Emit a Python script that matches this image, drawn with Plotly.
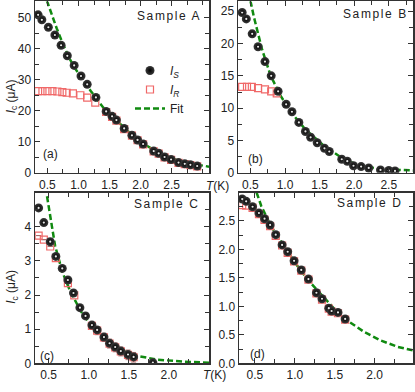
import plotly.graph_objects as go

# ---------------- Data ----------------
# Sample A
a_T_s = [0.35, 0.41, 0.515, 0.62, 0.72, 0.82, 0.93, 1.04, 1.14, 1.28, 1.445, 1.54, 1.61, 1.735, 1.86, 1.95, 2.04, 2.21, 2.29, 2.385, 2.49, 2.61, 2.71, 2.80, 2.91]
a_I_s = [50.9, 49.3, 46.9, 44.4, 41.1, 37.7, 34.6, 31.2, 28.5, 24.3, 19.8, 18.2, 17.0, 14.3, 12.1, 10.6, 9.3, 7.0, 6.3, 5.1, 4.3, 3.3, 2.9, 2.6, 2.2]
a_T_r = [0.35, 0.42, 0.50, 0.58, 0.66, 0.74, 0.81, 0.91, 1.03, 1.14, 1.27, 1.445, 1.54, 1.61, 1.735, 1.86, 1.95, 2.04, 2.21, 2.29, 2.385, 2.49, 2.61, 2.71, 2.80, 2.91]
a_I_r = [26.3, 26.3, 26.3, 26.3, 26.2, 26.0, 25.8, 25.6, 25.0, 24.2, 22.6, 19.6, 18.0, 16.8, 14.1, 12.0, 10.5, 9.2, 6.9, 6.2, 5.0, 4.2, 3.2, 2.8, 2.5, 2.1]
a_T_fit = [0.49, 0.55, 0.65, 0.75, 0.85, 0.95, 1.05, 1.2, 1.4, 1.6, 1.8, 2.0, 2.2, 2.4, 2.6, 2.8, 3.0, 3.1]
a_I_fit = [55.5, 52.0, 46.5, 41.5, 37.0, 33.5, 30.5, 26.3, 21.0, 17.0, 13.3, 10.0, 7.5, 5.4, 4.0, 3.0, 2.3, 2.0]

# Sample B
b_T_s = [0.38, 0.44, 0.525, 0.61, 0.71, 0.80, 0.90, 1.016, 1.10, 1.20, 1.295, 1.37, 1.465, 1.57, 1.64, 1.82, 1.90, 1.99, 2.10, 2.21, 2.38, 2.50, 2.59]
b_I_s = [24.8, 23.8, 21.5, 19.5, 17.2, 15.0, 12.6, 10.6, 9.45, 7.8, 6.4, 5.5, 4.65, 3.8, 3.3, 2.1, 1.8, 1.1, 0.97, 0.76, 0.45, 0.36, 0.3]
b_T_r = [0.38, 0.45, 0.52, 0.61, 0.71, 0.80, 0.88]
b_I_r = [13.3, 13.3, 13.3, 13.1, 12.9, 12.6, 12.3]
b_T_fit = [0.50, 0.55, 0.67, 0.79, 0.93, 1.10, 1.295, 1.54, 1.78, 2.02, 2.35, 2.86]
b_I_fit = [26.6, 24.1, 19.0, 15.1, 12.0, 9.2, 6.7, 4.4, 2.6, 1.36, 0.6, 0.36]

# Sample C
c_T_s = [0.375, 0.44, 0.52, 0.59, 0.67, 0.74, 0.81, 0.89, 0.96, 1.04, 1.105, 1.19, 1.26, 1.33, 1.40, 1.49, 1.56, 1.80]
c_I_s = [4.55, 4.12, 3.56, 3.13, 2.78, 2.44, 2.06, 1.63, 1.39, 1.12, 0.98, 0.77, 0.59, 0.48, 0.36, 0.26, 0.19, 0.02]
c_T_r = [0.375, 0.44, 0.52, 0.59, 0.74, 0.82, 1.04, 1.105, 1.19, 1.26, 1.33, 1.40, 1.49, 1.56]
c_I_r = [3.74, 3.62, 3.42, 3.08, 2.35, 1.99, 1.10, 0.96, 0.76, 0.58, 0.47, 0.35, 0.25, 0.18]
c_err_r = [0, 0, 0, 0, 0, 0, 0.1, 0.12, 0.12, 0.13, 0.13, 0.13, 0.14, 0.14]
c_T_fit = [0.48, 0.52, 0.58, 0.67, 0.77, 0.90, 1.02, 1.15, 1.31, 1.56, 1.855, 2.19, 2.50]
c_I_fit = [4.89, 4.31, 3.45, 2.68, 2.11, 1.53, 1.15, 0.81, 0.48, 0.24, 0.11, 0.05, 0.02]

# Sample D
d_T_s = [0.34, 0.39, 0.47, 0.55, 0.62, 0.69, 0.76, 0.84, 0.91, 0.99, 1.08, 1.17, 1.27, 1.34, 1.425, 1.46, 1.54, 1.63]
d_I_s = [2.885, 2.845, 2.75, 2.64, 2.54, 2.43, 2.26, 2.08, 1.96, 1.80, 1.64, 1.48, 1.24, 1.135, 0.97, 0.92, 0.895, 0.78]
d_T_r = [0.34, 0.39, 0.47, 0.55, 0.62, 0.69, 0.76, 0.84, 0.91, 0.99, 1.08, 1.17, 1.27, 1.34, 1.425, 1.46, 1.54, 1.63]
d_I_r = [2.78, 2.77, 2.73, 2.62, 2.52, 2.41, 2.24, 2.07, 1.94, 1.79, 1.63, 1.47, 1.23, 1.12, 0.96, 0.91, 0.88, 0.77]
d_T_fit = [0.52, 0.58, 0.70, 0.83, 0.996, 1.16, 1.33, 1.50, 1.66, 1.87, 2.08, 2.29, 2.475]
d_I_fit = [3.0, 2.76, 2.41, 2.13, 1.78, 1.47, 1.21, 0.95, 0.75, 0.55, 0.40, 0.29, 0.23]

x_ticks_ab = [0.5, 1.0, 1.5, 2.0, 2.5]
x_ticks_cd = [0.5, 1.0, 1.5, 2.0]
y_ticks_a = [0, 10, 20, 30, 40, 50]
y_ticks_b = [0, 5, 10, 15, 20, 25]
y_ticks_c = [0, 1, 2, 3, 4]
y_ticks_d = [0.0, 0.5, 1.0, 1.5, 2.0, 2.5]

# ---------------- Figure ----------------
W, H = 415, 392
GREEN = "#108a10"
RED = "#f06868"
FONT = "Liberation Sans"
SPHERE = dict(symbol="circle", size=9, color="#3a3a3a",
              gradient=dict(type="radial", color="#000000"), line=dict(width=0))

fig = go.Figure()

panels = [
    ("x", "y", a_T_s, a_I_s, a_T_r, a_I_r, None, a_T_fit, a_I_fit),
    ("x2", "y2", b_T_s, b_I_s, b_T_r, b_I_r, None, b_T_fit, b_I_fit),
    ("x3", "y3", c_T_s, c_I_s, c_T_r, c_I_r, c_err_r, c_T_fit, c_I_fit),
    ("x4", "y4", d_T_s, d_I_s, d_T_r, d_I_r, None, d_T_fit, d_I_fit),
]

for i, (xa, ya, ts, is_, tr, ir, er, tf, iff) in enumerate(panels):
    fig.add_trace(go.Scatter(
        x=tf, y=iff, xaxis=xa, yaxis=ya, mode="lines",
        line=dict(color=GREEN, width=2.5, dash="6px,3px"),
        name="Fit", showlegend=False))
    rkw = dict(x=tr, y=ir, xaxis=xa, yaxis=ya, mode="markers",
               marker=dict(symbol="square-open", size=7, color=RED, line=dict(width=1.2, color=RED)),
               name="I_R", showlegend=False)
    if er is not None:
        rkw["error_y"] = dict(type="data", array=er, visible=True, color="#a86a6a", thickness=1, width=2.5)
    fig.add_trace(go.Scatter(**rkw))
    fig.add_trace(go.Scatter(
        x=ts, y=is_, xaxis=xa, yaxis=ya, mode="markers",
        marker=SPHERE, name="I_S", showlegend=False))
    fig.add_trace(go.Scatter(
        x=ts, y=is_, xaxis=xa, yaxis=ya, mode="markers",
        marker=dict(symbol="circle", size=2.2, color="#e8e8e8", line=dict(width=0)),
        showlegend=False, hoverinfo="skip"))

# legend entries (panel A)
fig.add_trace(go.Scatter(x=[None], y=[None], mode="markers", marker=SPHERE,
                         name="<i>I</i><sub><i>S</i></sub>", legendrank=1))
fig.add_trace(go.Scatter(x=[None], y=[None], mode="markers",
                         marker=dict(symbol="square-open", size=7, color=RED, line=dict(width=1.2, color=RED)),
                         name="<i>I</i><sub><i>R</i></sub>", legendrank=2))
fig.add_trace(go.Scatter(x=[None], y=[None], mode="lines",
                         line=dict(color=GREEN, width=2.5, dash="6px,3px"),
                         name="Fit", legendrank=3))


def px_x(p):
    return p / W


def px_y(p):
    return 1 - p / H


dom = {
    "A": ([35, 209], [1.5, 176]),
    "B": ([238, 413], [1.5, 176]),
    "C": ([35, 209], [196, 370]),
    "D": ([239, 413], [196, 370]),
}


def xaxis(d, rng, ticks, anchor, minor_dt=0.25):
    return dict(domain=[px_x(d[0]), px_x(d[1])], range=rng, anchor=anchor,
                tickmode="array", tickvals=ticks, ticktext=[f"{t:.1f}" for t in ticks],
                ticks="inside", ticklen=5, tickwidth=1, tickcolor="#333",
                showline=True, linecolor="#333", linewidth=1.5, mirror="allticks",
                showgrid=False, zeroline=False,
                minor=dict(tickmode="linear", tick0=0, dtick=minor_dt, ticks="inside", ticklen=4,
                           tickcolor="#333", showgrid=False),
                tickfont=dict(family=FONT, size=12, color="#222"))


def yaxis(d, rng, ticks, anchor, minor_dt, fmt):
    return dict(domain=[px_y(d[1]), px_y(d[0])], range=rng, anchor=anchor,
                tickmode="array", tickvals=ticks, ticktext=[fmt.format(t) for t in ticks],
                ticks="inside", ticklen=5, tickwidth=1, tickcolor="#333",
                showline=True, linecolor="#333", linewidth=1.5, mirror="allticks",
                showgrid=False, zeroline=False,
                minor=dict(tickmode="linear", tick0=0, dtick=minor_dt, ticks="inside", ticklen=4,
                           tickcolor="#333", showgrid=False),
                tickfont=dict(family=FONT, size=12, color="#222"))


fig.update_layout(
    width=W, height=H,
    margin=dict(l=0, r=0, t=0, b=0),
    paper_bgcolor="white", plot_bgcolor="white",
    font=dict(family=FONT, size=12, color="#222"),
    hovermode=False,
    xaxis=xaxis(dom["A"][0], [0.3, 3.1], x_ticks_ab, "y"),
    yaxis=yaxis(dom["A"][1], [0, 55.2], y_ticks_a, "x", 5, "{:.0f}"),
    xaxis2=xaxis(dom["B"][0], [0.32, 2.85], x_ticks_ab, "y2"),
    yaxis2=yaxis(dom["B"][1], [0, 26.5], y_ticks_b, "x2", 2.5, "{:.0f}"),
    xaxis3=xaxis(dom["C"][0], [0.33, 2.5], x_ticks_cd, "y3"),
    yaxis3=yaxis(dom["C"][1], [0, 5.0], y_ticks_c, "x3", 0.5, "{:.0f}"),
    xaxis4=xaxis(dom["D"][0], [0.3, 2.48], x_ticks_cd, "y4"),
    yaxis4=yaxis(dom["D"][1], [0, 3.0], y_ticks_d, "x4", 0.25, "{:.1f}"),
    showlegend=True,
    legend=dict(x=px_x(130), y=px_y(57), xanchor="left", yanchor="top",
                bgcolor="rgba(0,0,0,0)", borderwidth=0,
                font=dict(family=FONT, size=12, color="#222"),
                tracegroupgap=0, itemwidth=30),
)

annots = []


def ann(x, y, text, size=12, angle=0):
    annots.append(dict(x=px_x(x), y=px_y(y), xref="paper", yref="paper", text=text,
                       showarrow=False, textangle=angle,
                       font=dict(family=FONT, size=size, color="#222"),
                       xanchor="center", yanchor="middle"))


sp = '<span style="letter-spacing:1.6px">{}</span>'
ann(169, 16, sp.format("Sample A"), 12)
ann(375, 14, sp.format("Sample B"), 12)
ann(167, 208, sp.format("Sample C"), 12)
ann(370, 207, sp.format("Sample D"), 12)
ann(50, 157, "(a)")
ann(255, 162, "(b)")
ann(47, 362, "(c)")
ann(257, 360, "(d)")
ann(217, 189, "<i>T</i>(K)")
ann(214, 382, "<i>T</i>(K)")
ann(12, 98, "<i>I</i><sub>c</sub> (μA)", 12, -90)
ann(12, 292, "<i>I</i><sub>c</sub> (μA)", 12, -90)

fig.update_layout(annotations=annots)

fig.write_html(
    "out.html",
    config={"displayModeBar": False, "staticPlot": True},
    post_script="document.body.style.margin='0';document.body.style.padding='0';"
                "document.body.style.overflow='hidden';",
)
